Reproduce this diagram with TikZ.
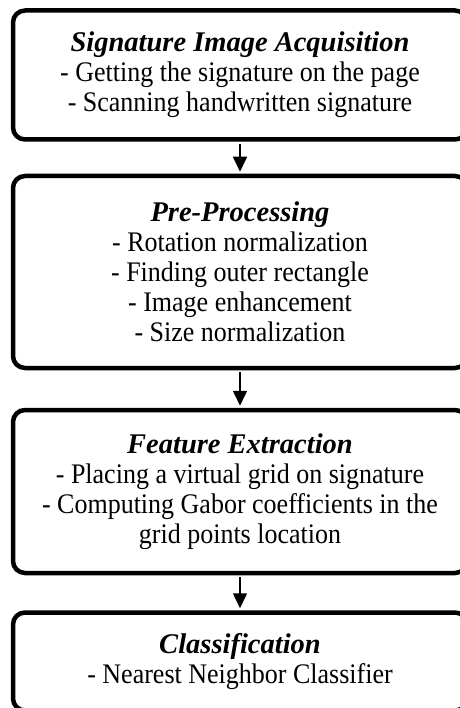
\documentclass[tikz,border=0pt]{standalone}
\usepackage{graphicx}
\usepackage{fontspec}
\setmainfont{Liberation Serif}
\usetikzlibrary{arrows.meta}
\newcommand{\ttl}[1]{{\fontsize{28.5}{30}\selectfont\textbf{\textit{#1}}}}
\newcommand{\bln}[1]{\scalebox{1}[1.09]{#1}}
\begin{document}
\begin{tikzpicture}[x=1pt,y=-1pt,
  stagebox/.style={draw=black, line width=4.5pt, rounded corners=12pt, inner sep=0pt,
    minimum width=454pt, align=center, font=\fontsize{26}{30}\selectfont},
  flow/.style={line width=1.6pt, -{Triangle[width=14pt,length=15pt]}}]
\useasboundingbox (0,0) rectangle (459,708);
\node[stagebox, minimum height=129pt] (b1) at (240,75)
  {\ttl{Signature Image Acquisition}\\\bln{- Getting the signature on the page}\\\bln{- Scanning handwritten signature}};
\node[stagebox, minimum height=192pt] (b2) at (240,272)
  {\ttl{Pre-Processing}\\\bln{- Rotation normalization}\\\bln{- Finding outer rectangle}\\\bln{- Image enhancement}\\\bln{- Size normalization}};
\node[stagebox, minimum height=163pt] (b3) at (240,491.5)
  {\ttl{Feature Extraction}\\\bln{- Placing a virtual grid on signature}\\\bln{- Computing Gabor coefficients in the}\\\bln{grid points location}};
\node[stagebox, minimum height=98pt] (b4) at (240,661.5)
  {\ttl{Classification}\\\bln{- Nearest Neighbor Classifier}};
\draw[flow] ([yshift=-2pt]b1.south) -- ([yshift=2pt]b2.north);
\draw[flow] ([yshift=-2pt]b2.south) -- ([yshift=2pt]b3.north);
\draw[flow] ([yshift=-2pt]b3.south) -- ([yshift=2pt]b4.north);
\end{tikzpicture}
\end{document}
